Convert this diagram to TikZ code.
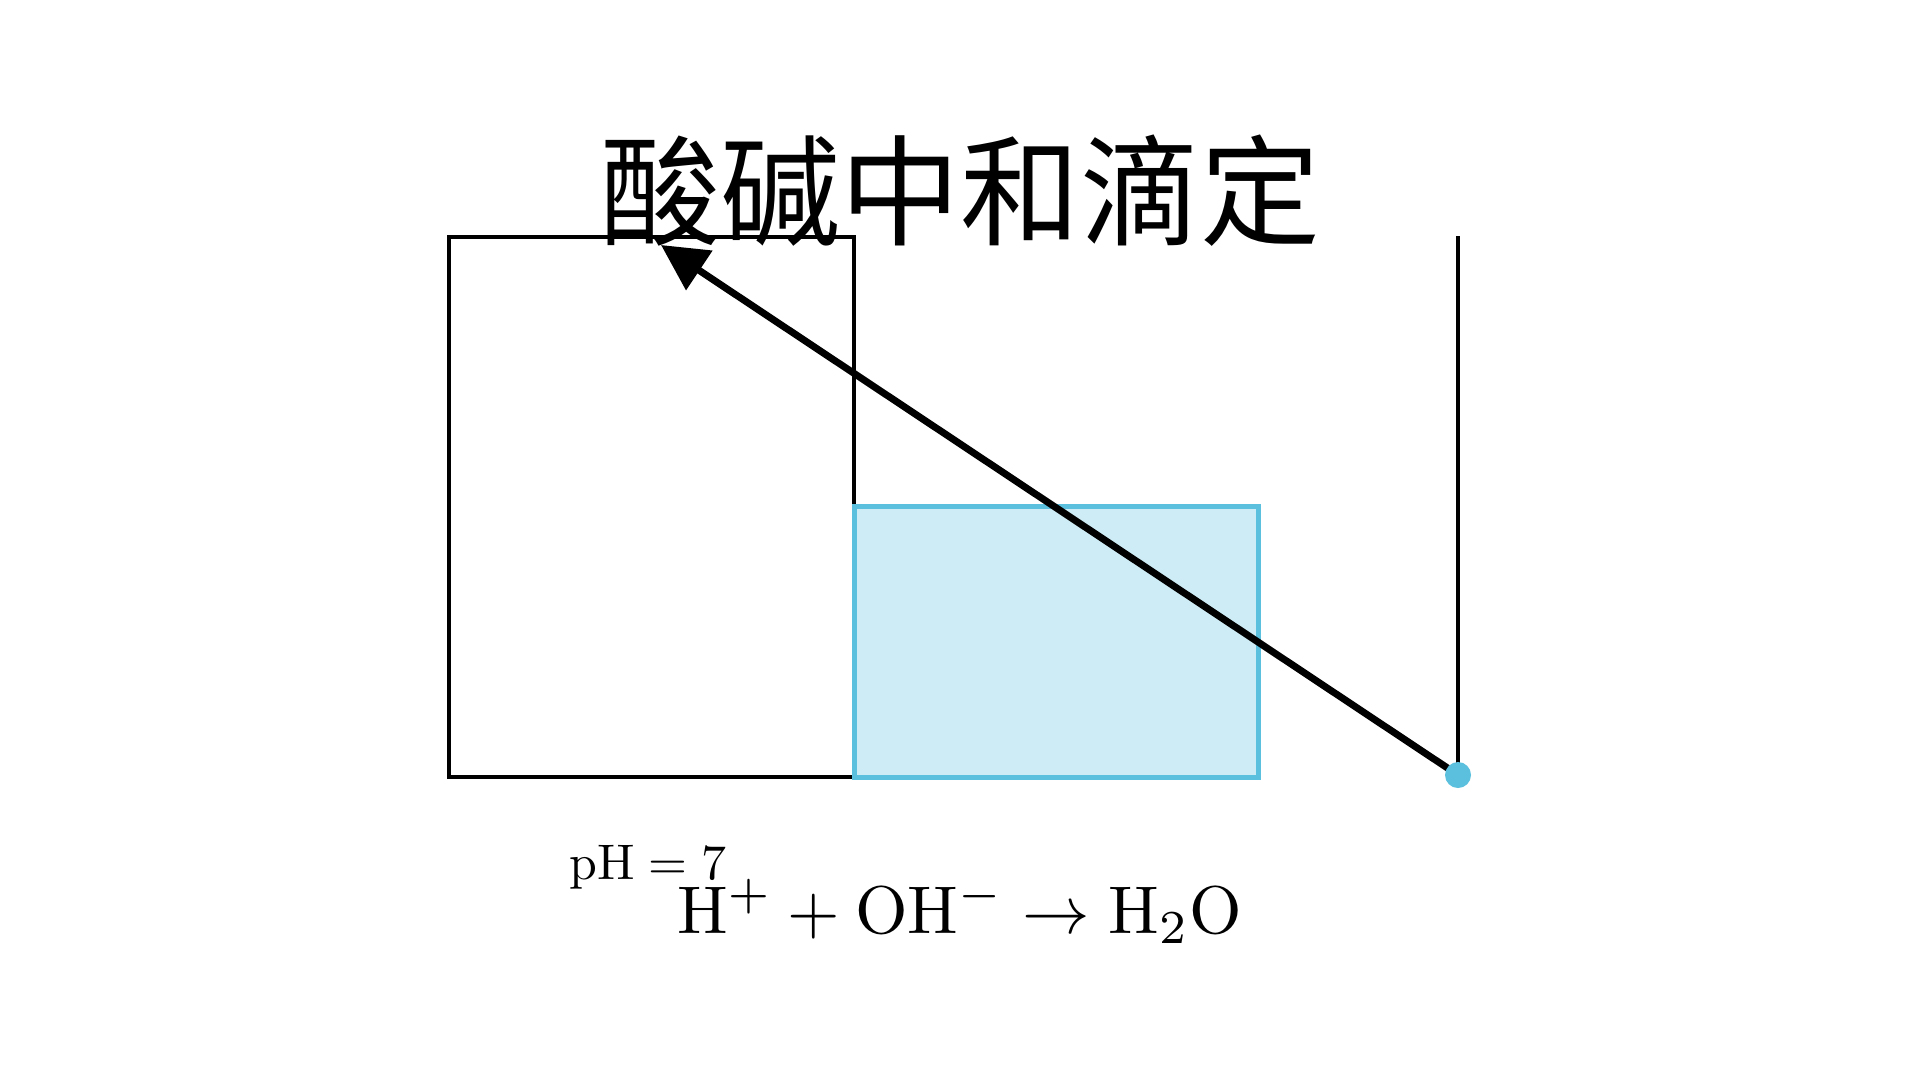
\documentclass[tikz,border=0pt]{standalone}
\usepackage{fontspec}
\usepackage{graphicx}
\newfontfamily\cjk{Noto Sans CJK SC}
\usetikzlibrary{arrows.meta}
\definecolor{infoblue}{HTML}{5BC0DE}
\tikzset{
  outline/.style={draw=black, line width=3.8pt, inner sep=0pt},
  liquid/.style={draw=infoblue, fill=infoblue!30, line width=5pt, inner sep=0pt},
  dropdot/.style={circle, fill=infoblue, minimum size=26pt, inner sep=0pt},
  pointer/.style={line width=7pt, -{Triangle[length=46pt,width=46pt]}},
  label/.style={inner sep=0pt, anchor=base west}
}
\begin{document}
\begin{tikzpicture}[x=1pt,y=-1pt]
\useasboundingbox (0,0) rectangle (1920,1080);
% left beaker outline
\node[outline, minimum width=405pt, minimum height=540pt, anchor=north west] (beaker) at (447,235) {};
% liquid
\node[liquid, minimum width=404pt, minimum height=271pt, anchor=north west] (liquid) at (852,504) {};
% right burette line and drop
\coordinate (rtop) at (1458,236);
\coordinate (dropc) at (1458,775);
\coordinate (tip) at (661,245);
\draw[line width=3.8pt] (rtop) -- (dropc);
\draw[pointer] (dropc) -- (tip);
\node[dropdot] (drop) at (dropc) {};
% title
\node[inner sep=0pt, anchor=base] (title) at (960,236) {\cjk\fontsize{120}{140}\selectfont 酸碱中和滴定};
% formulas
\node[label] (ph) at (569,879) {\scalebox{5}{$\mathrm{pH}=7$}};
\node[label] (eq) at (677,933) {\scalebox{6.75}{$\mathrm{H^{+}+OH^{-}\rightarrow H_{2}O}$}};
\end{tikzpicture}
\end{document}
